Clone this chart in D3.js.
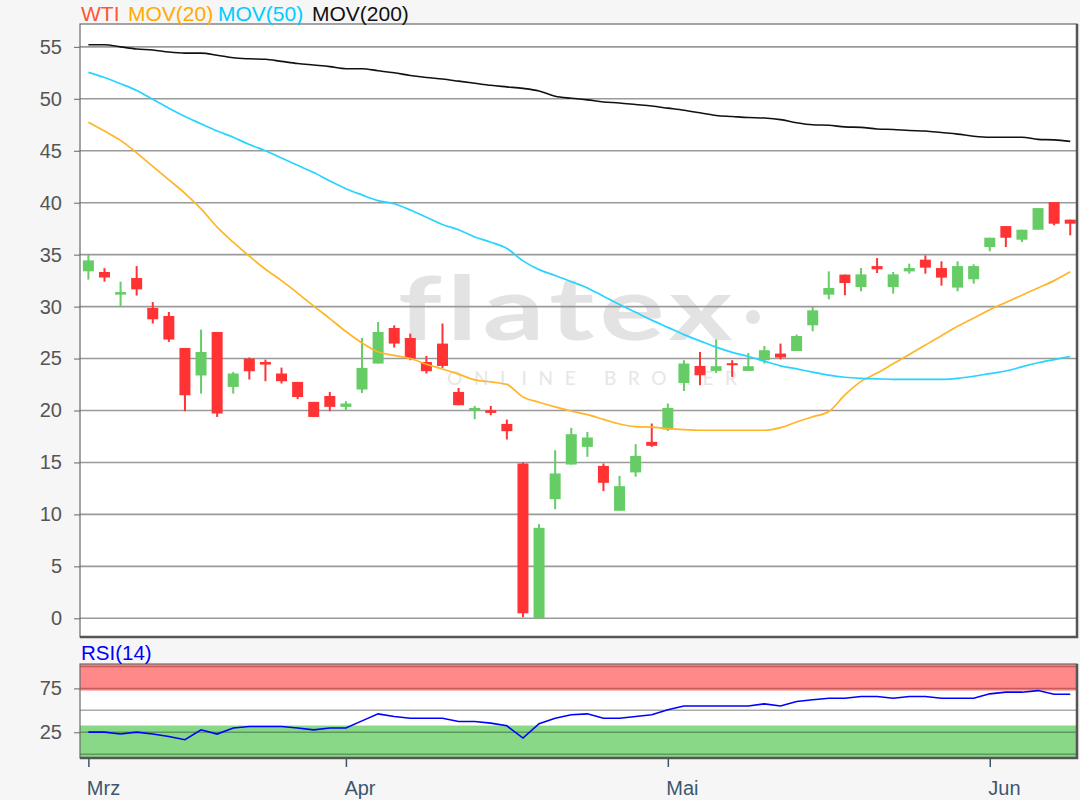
<!DOCTYPE html>
<html>
<head>
<meta charset="utf-8">
<script src="https://cdn.jsdelivr.net/npm/d3@7"></script>
<style>
  html, body { margin: 0; padding: 0; background: #f6f6f6; }
  svg { display: block; font-family: "Liberation Sans", Arial, sans-serif; }
</style>
</head>
<body>
<svg id="chart" width="1080" height="800"></svg>
<script>
// ---------- DATA ----------
const monthTickIndex = [0, 16, 36, 56];
const monthLabels = ["Mrz", "Apr", "Mai", "Jun"];
const priceTicks = [0, 5, 10, 15, 20, 25, 30, 35, 40, 45, 50, 55];
const rsiTickLabels = [25, 75];
const rsiGrid = [0, 25, 50, 75, 100];
const legendLabels = ["WTI", "MOV(20)", "MOV(50)", "MOV(200)"];

const openV = [33.4, 33.33, 31.15, 32.75, 29.87, 29.1, 26.02, 23.37, 27.56, 22.27, 25.0, 24.67, 23.56, 22.75, 20.83, 21.4, 20.35, 22.02, 24.52, 27.94, 26.98, 24.67, 26.44, 21.79, 20.0, 20.03, 18.71, 14.9, 0.0, 11.47, 14.8, 16.5, 14.67, 10.35, 14.04, 16.98, 18.17, 22.65, 24.29, 23.81, 24.55, 23.81, 24.84, 25.48, 25.73, 28.2, 31.15, 33.08, 31.88, 33.9, 31.88, 33.39, 34.52, 33.71, 31.83, 32.63, 35.73, 37.75, 36.44, 37.4, 40.06, 38.37];
const highV = [34.98, 33.7, 32.4, 33.9, 30.44, 29.48, 26.02, 27.79, 27.56, 23.71, 25.1, 24.9, 24.13, 22.75, 20.83, 21.79, 20.9, 26.98, 28.52, 28.2, 27.4, 25.25, 28.37, 22.17, 20.44, 20.44, 19.13, 15.0, 9.07, 16.18, 18.33, 17.94, 14.9, 13.71, 16.76, 18.75, 20.67, 24.84, 25.63, 26.83, 24.84, 25.54, 26.21, 26.44, 27.31, 29.96, 33.39, 33.08, 33.71, 34.67, 33.33, 34.13, 34.93, 34.36, 34.36, 34.07, 36.63, 37.75, 37.4, 39.48, 40.06, 38.37];
const lowV = [32.6, 32.4, 29.96, 31.06, 28.37, 26.6, 19.93, 21.63, 19.38, 21.63, 22.98, 22.82, 22.6, 21.09, 19.38, 19.93, 19.96, 21.69, 24.52, 26.06, 24.84, 23.56, 24.1, 20.51, 19.16, 19.55, 17.21, 0.1, 0.0, 10.5, 14.8, 15.54, 12.24, 10.35, 13.62, 16.5, 18.04, 21.88, 22.43, 23.62, 23.23, 23.81, 24.52, 24.93, 25.73, 27.63, 30.7, 31.09, 31.47, 33.23, 31.25, 33.17, 33.17, 32.02, 31.47, 32.21, 35.32, 35.73, 36.21, 37.4, 37.82, 36.86];
const closeV = [34.45, 32.8, 31.4, 31.66, 28.78, 26.83, 21.47, 25.63, 19.71, 23.56, 23.78, 24.42, 22.82, 21.3, 19.38, 20.35, 20.67, 24.1, 27.56, 26.44, 25.0, 23.78, 24.29, 20.51, 20.25, 19.77, 18.01, 0.48, 8.71, 13.94, 17.72, 17.4, 13.04, 12.72, 15.63, 16.6, 20.25, 24.52, 23.39, 24.26, 24.36, 24.26, 25.8, 25.1, 27.17, 29.64, 31.79, 32.27, 33.1, 33.59, 33.1, 33.71, 33.75, 32.79, 33.9, 33.9, 36.63, 36.63, 37.4, 39.48, 37.98, 37.98];

const mov20 = [47.75, 46.9, 46.0, 44.8, 43.5, 42.2, 40.9, 39.4, 37.65, 36.2, 34.85, 33.6, 32.5, 31.3, 30.05, 28.85, 27.6, 26.5, 25.65, 25.3, 25.0, 24.45, 24.0, 23.5, 22.95, 22.75, 22.5, 21.3, 20.8, 20.35, 19.95, 19.6, 19.15, 18.7, 18.45, 18.4, 18.25, 18.15, 18.1, 18.1, 18.1, 18.1, 18.1, 18.35, 18.9, 19.4, 19.9, 21.5, 22.8, 23.6, 24.5, 25.4, 26.3, 27.2, 28.1, 28.9, 29.7, 30.4, 31.1, 31.8, 32.5, 33.35];
const mov50 = [52.55, 52.05, 51.45, 50.8, 49.95, 49.1, 48.3, 47.6, 46.9, 46.3, 45.6, 45.0, 44.3, 43.6, 42.9, 42.1, 41.35, 40.75, 40.2, 39.9, 39.3, 38.6, 37.9, 37.4, 36.7, 36.2, 35.6, 34.4, 33.56, 33.0, 32.4, 31.8, 31.0, 30.2, 29.45, 28.7, 28.0, 27.3, 26.7, 26.1, 25.6, 25.2, 24.75, 24.3, 24.0, 23.7, 23.4, 23.2, 23.1, 23.05, 23.0, 23.0, 23.0, 23.0, 23.1, 23.3, 23.55, 23.8, 24.2, 24.6, 24.9, 25.2];
const mov200 = [55.2, 55.2, 55.0, 54.8, 54.7, 54.5, 54.4, 54.4, 54.2, 53.95, 53.85, 53.8, 53.6, 53.4, 53.25, 53.1, 52.9, 52.9, 52.7, 52.5, 52.25, 52.05, 51.9, 51.7, 51.5, 51.3, 51.15, 51.0, 50.75, 50.25, 50.05, 49.9, 49.7, 49.6, 49.45, 49.3, 49.1, 48.9, 48.65, 48.4, 48.3, 48.2, 48.15, 48.0, 47.7, 47.5, 47.45, 47.3, 47.25, 47.1, 47.05, 46.95, 46.9, 46.75, 46.6, 46.4, 46.3, 46.3, 46.3, 46.1, 46.05, 45.9];
const rsi14 = [25.2, 25.2, 23.0, 25.2, 23.0, 20.2, 16.5, 27.8, 23.0, 29.8, 31.6, 31.6, 31.6, 29.8, 27.8, 29.8, 29.8, 38, 46, 43, 41, 41, 41, 37.3, 37.3, 35.4, 32.4, 18.4, 34.7, 41, 45, 46, 41, 41, 43, 44.9, 50.6, 55, 55, 55, 55, 55, 57.4, 55, 60, 62, 63.8, 63.8, 65.7, 65.7, 63.8, 65.7, 65.7, 63.8, 63.8, 63.8, 68.8, 70.7, 70.7, 72.5, 68.4, 68.4];

// ---------- LAYOUT ----------
const svg = d3.select("#chart");
const L = 80, R = 1077;
const mainTop = 24, mainBot = 637;
const rsiTop = 664, rsiBot = 758;

const idx = d3.range(openV.length);
const x = d3.scaleLinear().domain([-0.52, 61.42]).range([L, R]);
const y = d3.scaleLinear().domain([-1.8, 57.2]).range([mainBot, mainTop]);
const yR = d3.scaleLinear().domain([-4.3, 102.8]).range([rsiBot, rsiTop]);

const colUp = "#66cc66", colDn = "#ff3333";

// clip paths
const defs = svg.append("defs");
defs.append("clipPath").attr("id", "clipMain").append("rect")
  .attr("x", L).attr("y", mainTop).attr("width", R - L).attr("height", mainBot - mainTop);
defs.append("clipPath").attr("id", "clipRsi").append("rect")
  .attr("x", L).attr("y", rsiTop).attr("width", R - L).attr("height", rsiBot - rsiTop);

// ---------- MAIN PANEL ----------
svg.append("rect").attr("x", L).attr("y", mainTop).attr("width", R - L).attr("height", mainBot - mainTop)
  .attr("fill", "#ffffff");

const gMain = svg.append("g").attr("clip-path", "url(#clipMain)");

// watermark
gMain.append("text").attr("x", 398).attr("y", 340)
  .attr("font-family", "Lato, 'Open Sans', sans-serif").attr("font-weight", 700)
  .attr("font-size", 88).attr("letter-spacing", 4).attr("fill", "#e3e3e3")
  .attr("textLength", 340).attr("lengthAdjust", "spacingAndGlyphs")
  .text("flatex");
gMain.append("circle").attr("cx", 753).attr("cy", 317).attr("r", 7).attr("fill", "#e3e3e3");
gMain.append("text").attr("x", 447).attr("y", 385)
  .attr("font-family", "Lato, 'Open Sans', sans-serif").attr("font-size", 19)
  .attr("fill", "#e6e6e6").attr("textLength", 290).attr("lengthAdjust", "spacing")
  .text("ONLINE BROKER");

// grid
gMain.selectAll("line.grid").data(priceTicks).join("line")
  .attr("x1", L).attr("x2", R)
  .attr("y1", d => y(d)).attr("y2", d => y(d))
  .attr("stroke", "#9a9a9a").attr("stroke-width", 1.6);

// candles
const candles = gMain.selectAll("g.candle").data(idx).join("g");
candles.append("line")
  .attr("x1", i => x(i)).attr("x2", i => x(i))
  .attr("y1", i => y(highV[i])).attr("y2", i => y(lowV[i]))
  .attr("stroke", i => closeV[i] >= openV[i] ? colUp : colDn).attr("stroke-width", 2);
candles.append("rect")
  .attr("x", i => x(i) - 5.5).attr("width", 11)
  .attr("y", i => y(Math.max(openV[i], closeV[i])))
  .attr("height", i => Math.max(2, Math.abs(y(openV[i]) - y(closeV[i]))))
  .attr("fill", i => closeV[i] >= openV[i] ? colUp : colDn);

// moving averages
const lineGen = arr => d3.line().x(i => x(i)).y(i => y(arr[i])).curve(d3.curveMonotoneX)(idx);
gMain.append("path").attr("d", lineGen(mov20)).attr("fill", "none").attr("stroke", "#ffb526").attr("stroke-width", 1.7);
gMain.append("path").attr("d", lineGen(mov50)).attr("fill", "none").attr("stroke", "#26d4ff").attr("stroke-width", 1.7);
gMain.append("path").attr("d", lineGen(mov200)).attr("fill", "none").attr("stroke", "#111111").attr("stroke-width", 1.6);

// frame
svg.append("rect").attr("x", L).attr("y", mainTop).attr("width", R - L).attr("height", mainBot - mainTop)
  .attr("fill", "none").attr("stroke", "#6a6a6a").attr("stroke-width", 1.2);
svg.append("path").attr("d", `M${R},${mainTop} V${mainBot} H${L}`)
  .attr("fill", "none").attr("stroke", "#555").attr("stroke-width", 2.5);

// y axis
const yAxis = svg.append("g").attr("transform", `translate(${L},0)`)
  .call(d3.axisLeft(y).tickValues(priceTicks).tickSize(6).tickPadding(12));
yAxis.select(".domain").remove();
yAxis.selectAll(".tick line").attr("stroke", "#666");
yAxis.selectAll(".tick text").attr("font-size", 20).attr("fill", "#555")
  .attr("font-family", "'Liberation Sans', Arial, sans-serif");

// legend
const legendX = [81, 128, 218, 312];
const legendCol = ["#ff5533", "#ffaa00", "#00ccff", "#111111"];
svg.selectAll("text.legend").data(legendLabels).join("text")
  .attr("x", (d, i) => legendX[i]).attr("y", 21)
  .attr("font-size", 21).attr("fill", (d, i) => legendCol[i])
  .text(d => d);

// ---------- RSI PANEL ----------
svg.append("rect").attr("x", L).attr("y", rsiTop).attr("width", R - L).attr("height", rsiBot - rsiTop)
  .attr("fill", "#ffffff");
const gR = svg.append("g").attr("clip-path", "url(#clipRsi)");
gR.append("rect").attr("x", L).attr("width", R - L)
  .attr("y", yR(103)).attr("height", yR(72.5) - yR(103)).attr("fill", "#ff8888");
gR.append("rect").attr("x", L).attr("width", R - L)
  .attr("y", yR(32.7)).attr("height", yR(-5) - yR(32.7)).attr("fill", "#88d888");
gR.selectAll("line.rg").data(rsiGrid).join("line")
  .attr("x1", L).attr("x2", R).attr("y1", d => yR(d)).attr("y2", d => yR(d))
  .attr("stroke", d => d > 60 ? "#c85a5a" : (d < 40 ? "#5a9a5a" : "#aaaaaa"))
  .attr("stroke-width", 1.5);
gR.append("path")
  .attr("d", d3.line().x(i => x(i)).y(i => yR(rsi14[i]))(idx))
  .attr("fill", "none").attr("stroke", "#0000ff").attr("stroke-width", 1.6);

svg.append("rect").attr("x", L).attr("y", rsiTop).attr("width", R - L).attr("height", rsiBot - rsiTop)
  .attr("fill", "none").attr("stroke", "#6a6a6a").attr("stroke-width", 1.2);
svg.append("path").attr("d", `M${R},${rsiTop} V${rsiBot} H${L}`)
  .attr("fill", "none").attr("stroke", "#555").attr("stroke-width", 2.5);

svg.append("text").attr("x", 81).attr("y", 660).attr("font-size", 20.5).attr("fill", "#0000ff").text("RSI(14)");

const yRAxis = svg.append("g").attr("transform", `translate(${L},0)`)
  .call(d3.axisLeft(yR).tickValues(rsiTickLabels).tickSize(6).tickPadding(12));
yRAxis.select(".domain").remove();
yRAxis.selectAll(".tick line").attr("stroke", "#666");
yRAxis.selectAll(".tick text").attr("font-size", 20).attr("fill", "#555")
  .attr("font-family", "'Liberation Sans', Arial, sans-serif");

// x axis
const xAxis = svg.append("g").attr("transform", `translate(0,${rsiBot + 1})`)
  .call(d3.axisBottom(x).tickValues(monthTickIndex).tickSize(8).tickPadding(14)
    .tickFormat((d, i) => monthLabels[i]));
xAxis.select(".domain").remove();
xAxis.selectAll(".tick line").attr("stroke", "#3d566e").attr("stroke-width", 1.5);
xAxis.selectAll(".tick text").attr("font-size", 20).attr("fill", "#3d566e")
  .attr("text-anchor", "start").attr("dx", -2)
  .attr("font-family", "'Liberation Sans', Arial, sans-serif");
</script>
</body>
</html>
